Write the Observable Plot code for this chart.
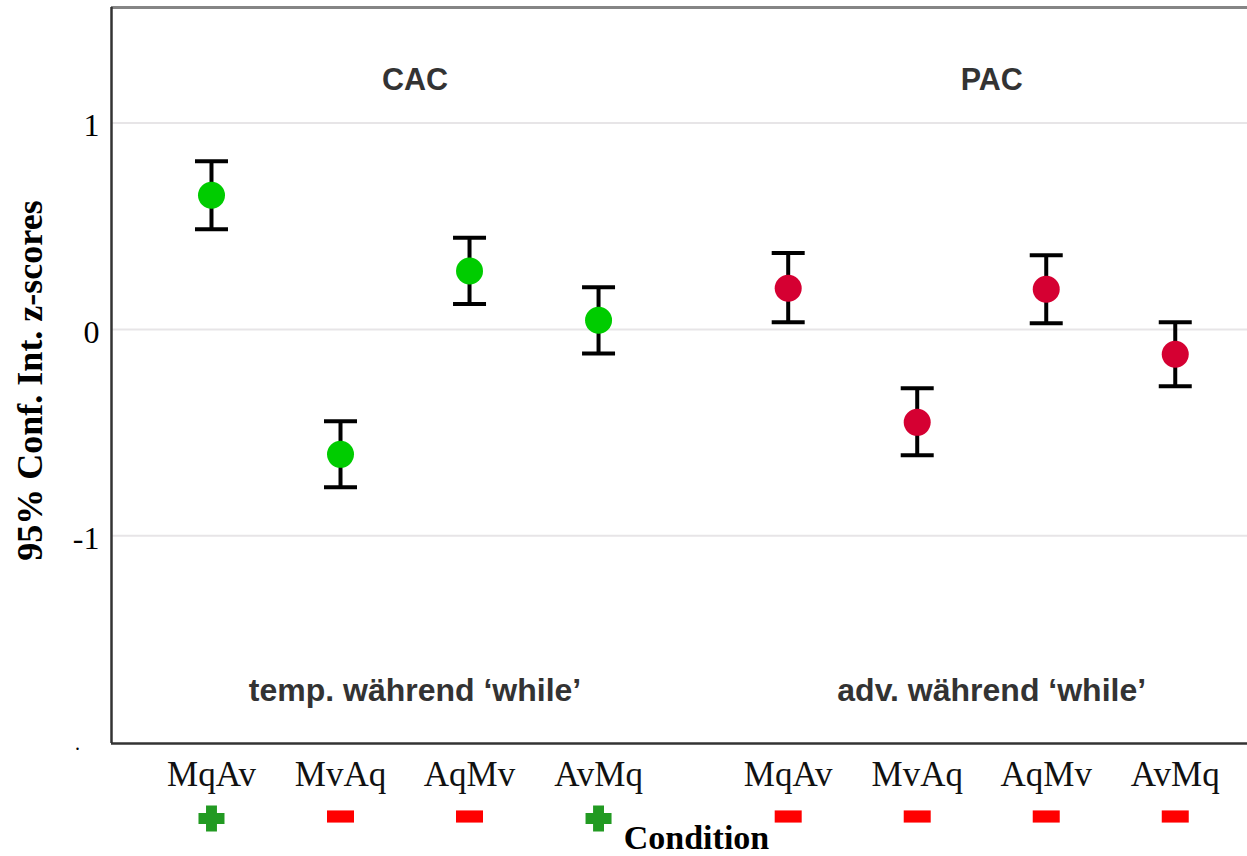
<!DOCTYPE html>
<html>
<head>
<meta charset="utf-8">
<script src="https://cdn.jsdelivr.net/npm/d3@7"></script>
<script src="https://cdn.jsdelivr.net/npm/@observablehq/plot@0.6"></script>
<style>
  html, body { margin: 0; padding: 0; background: #fff; }
  #chart svg { display: block; }
</style>
</head>
<body>
<div id="chart"></div>
<script>
// ---- data ----
const groups     = ["CAC", "CAC", "CAC", "CAC", "PAC", "PAC", "PAC", "PAC"];
const conditions = ["MqAv", "MvAq", "AqMv", "AvMq", "MqAv", "MvAq", "AqMv", "AvMq"];
const means      = [0.650, -0.605, 0.283, 0.045, 0.200, -0.450, 0.195, -0.120];
const lower      = [0.485, -0.765, 0.123, -0.117, 0.035, -0.610, 0.030, -0.275];
const upper      = [0.815, -0.445, 0.445, 0.205, 0.370, -0.285, 0.360, 0.035];
const signs      = ["+", "-", "-", "+", "-", "-", "-", "-"];
const groupNames = ["CAC", "PAC"];
const groupNotes = ["temp. während ‘while’", "adv. während ‘while’"];
const yTicks     = [-1, 0, 1];

// ---- layout ----
const groupGap = 0.47;           // extra slot spacing between the two groups
const xDomain = [-0.775, 8.03];
const yDomain = [-2.006, 1.56];
const serif = "'Liberation Serif', 'Times New Roman', serif";
const sans = "'Liberation Sans', Arial, sans-serif";

const rows = conditions.map((c, i) => {
  const g = groupNames.indexOf(groups[i]);
  return {group: groups[i], condition: c, mean: means[i], lo: lower[i], hi: upper[i],
          sign: signs[i], pos: i + g * groupGap};
});
const groupRows = groupNames.map((name, g) => {
  const ps = rows.filter(r => r.group === name).map(r => r.pos);
  return {name, note: groupNotes[g], pos: d3.mean(ps)};
});

// custom symbols
const capSymbol = {draw(ctx, size) { const w = Math.sqrt(size / Math.PI); ctx.moveTo(-w, 0); ctx.lineTo(w, 0); }};
const plusSymbol = {draw(ctx, size) {
  const h = Math.sqrt(size / Math.PI), a = h * 0.42;
  ctx.moveTo(-a, -h); ctx.lineTo(a, -h); ctx.lineTo(a, -a); ctx.lineTo(h, -a); ctx.lineTo(h, a);
  ctx.lineTo(a, a); ctx.lineTo(a, h); ctx.lineTo(-a, h); ctx.lineTo(-a, a); ctx.lineTo(-h, a);
  ctx.lineTo(-h, -a); ctx.lineTo(-a, -a); ctx.closePath();
}};
const minusSymbol = {draw(ctx, size) {
  const h = Math.sqrt(size / Math.PI), v = h * 0.45;
  ctx.moveTo(-h, -v); ctx.lineTo(h, -v); ctx.lineTo(h, v); ctx.lineTo(-h, v); ctx.closePath();
}};

const chart = Plot.plot({
  width: 1247,
  height: 856,
  marginLeft: 111,
  marginRight: 0,
  marginTop: 7,
  marginBottom: 113,
  style: {background: "#fff", fontFamily: serif},
  x: {domain: xDomain, axis: null},
  y: {domain: yDomain, axis: null},
  marks: [
    // gridlines
    Plot.ruleY(yTicks, {stroke: "#e7e5e7", strokeWidth: 2}),
    // frame (left, bottom, top)
    Plot.ruleY([yDomain[1]], {stroke: "#858585", strokeWidth: 3}),
    Plot.ruleX([xDomain[0]], {stroke: "#333", strokeWidth: 2.5}),
    Plot.ruleY([yDomain[0]], {stroke: "#333", strokeWidth: 2.5}),
    // error bars
    Plot.ruleX(rows, {x: "pos", y1: "lo", y2: "hi", stroke: "#000", strokeWidth: 4}),
    Plot.dot(rows, {x: "pos", y: "lo", symbol: capSymbol, r: 16.5, stroke: "#000", strokeWidth: 4, fill: "none"}),
    Plot.dot(rows, {x: "pos", y: "hi", symbol: capSymbol, r: 16.5, stroke: "#000", strokeWidth: 4, fill: "none"}),
    // means
    Plot.dot(rows.filter(d => d.group === "CAC"), {x: "pos", y: "mean", r: 13.5, fill: "#00cc00", stroke: "none"}),
    Plot.dot(rows.filter(d => d.group === "PAC"), {x: "pos", y: "mean", r: 13.5, fill: "#d50032", stroke: "none"}),
    // y tick labels
    Plot.text(yTicks, {y: d => d, text: d => String(d), frameAnchor: "left", textAnchor: "end",
      dx: -12, dy: 3, fontSize: 32, fontFamily: serif, fill: "#000"}),
    Plot.text(["."], {frameAnchor: "bottom-left", textAnchor: "middle", lineAnchor: "bottom",
      dx: -34, dy: 6, fontSize: 20, fontFamily: serif, fill: "#000"}),
    // y axis label
    Plot.text(["95% Conf. Int. z-scores"], {frameAnchor: "left", textAnchor: "middle", rotate: -90,
      dx: -81, dy: 5, fontSize: 36, fontWeight: "bold", fontFamily: serif, fill: "#000"}),
    // x category labels
    Plot.text(rows, {x: "pos", text: "condition", frameAnchor: "bottom", lineAnchor: "bottom",
      dy: 42, fontSize: 35, fontFamily: serif, fill: "#111"}),
    // sign markers
    Plot.dot(rows.filter(d => d.sign === "+"), {x: "pos", y: () => yDomain[0], dy: 75, symbol: plusSymbol,
      r: 13, fill: "#229a22", stroke: "none"}),
    Plot.dot(rows.filter(d => d.sign === "-"), {x: "pos", y: () => yDomain[0], dy: 73, symbol: minusSymbol,
      r: 13.5, fill: "#ff0000", stroke: "none"}),
    // x axis title
    Plot.text(["Condition"], {frameAnchor: "bottom", lineAnchor: "bottom", dx: 17, dy: 105,
      fontSize: 34, fontWeight: "bold", fontFamily: serif, fill: "#000"}),
    // group annotations
    Plot.text(groupRows, {x: "pos", text: "name", frameAnchor: "top", lineAnchor: "bottom", dx: 10, dy: 82,
      fontSize: 30.5, fontWeight: "bold", fontFamily: sans, fill: "#333"}),
    Plot.text(groupRows, {x: "pos", text: "note", frameAnchor: "top", lineAnchor: "bottom", dx: 10, dy: 693,
      fontSize: 32, fontWeight: "bold", fontFamily: sans, fill: "#333"})
  ]
});
document.getElementById("chart").appendChild(chart);
</script>
</body>
</html>
